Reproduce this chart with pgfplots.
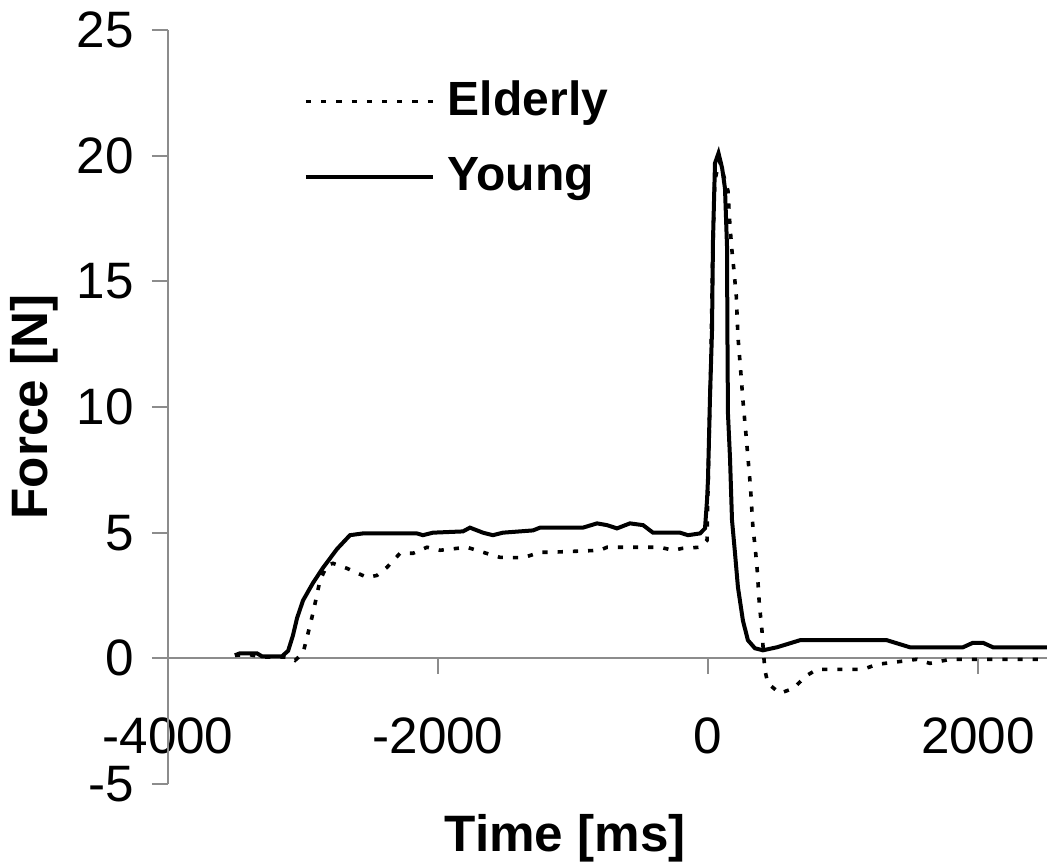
\documentclass[border=0pt]{standalone}
\usepackage{pgfplots}
\pgfplotsset{compat=1.18}
\usepackage{fontspec}
\setmainfont{Liberation Sans}
\definecolor{axisgray}{RGB}{140,140,140}

\pgfplotsset{
  forcestyle/.style={
    scale only axis, width=219.7pt,
    xmin=-4000, xmax=2510,
    axis line style={draw=axisgray, line width=0.5pt, -},
    tick style={draw=axisgray, line width=0.5pt},
    tick align=outside, major tick length=4pt,
    /pgf/number format/.cd, assume math mode=true, set thousands separator={}, /pgfplots/.cd,
    tick label style={font=\fontsize{12.8}{14}\selectfont, text=black},
    label style={font=\fontsize{12.8}{14}\selectfont},
  },
}

\begin{document}
\begin{tikzpicture}
\useasboundingbox (-42pt,-20.75pt) rectangle (219.75pt,196pt);
% x axis line through y = 0
\begin{axis}[
  forcestyle,
  at={(0pt,31.4167pt)}, anchor=south west,
  height=157.083pt, ymin=0, ymax=25,
  axis x line*=bottom, axis y line=none, ytick=\empty,
  xtick={-4000,-2000,0,2000},
  xtick style={draw=none},
  xticklabel style={anchor=north, inner sep=0pt, yshift=-10.75pt},
  xlabel={\bfseries Time [ms]},
  xlabel style={at={(axis description cs:0.452,-0.2866)}, anchor=center},
]
\end{axis}
\begin{axis}[
  forcestyle,
  at={(0pt,0pt)}, anchor=south west,
  height=188.5pt, ymin=-5, ymax=25,
  axis x line=none, xtick=\empty,
  axis y line*=left,
  ytick={-5,0,...,25},
  yticklabel style={xshift=-1pt},
  ylabel={\bfseries Force [N]},
  ylabel style={at={(axis description cs:-0.1527,0.5)}, anchor=center},
  legend style={at={(axis description cs:0.1538,0.8554)}, anchor=west, draw=none, fill=none,
    inner sep=0pt, row sep=9pt, column sep=3.25pt, nodes={inner sep=0pt},
    font=\bfseries\fontsize{12}{14}\selectfont},
  legend cell align=left,
  legend image code/.code={\draw[#1] (0pt,0pt) -- (31.75pt,0pt);},
]
% Elderly
\addplot[black, line width=0.9pt, dash pattern=on 1.3pt off 2.5pt] coordinates {
(-3504,0.12) (-3400,0.15) (-3300,0.05) (-3150,0.05) (-3096,0.04) (-3059,-0.08)
(-3000,0.2) (-2963,0.99) (-2926,1.8) (-2874,3.1) (-2822,3.7) (-2778,3.78)
(-2674,3.58) (-2526,3.22) (-2452,3.3) (-2378,3.62) (-2281,4.18) (-2185,4.18)
(-2081,4.42) (-1985,4.3) (-1785,4.42) (-1667,4.22) (-1541,4.02) (-1370,4.0)
(-1244,4.22) (-1170,4.22) (-800,4.3) (-748,4.42) (-356,4.42) (-259,4.3)
(-185,4.38) (-59,4.42) (-7,4.7) (5,8.0) (20,11.5) (35,16) (50,19) (85,19.8)
(148,18.6) (163,17.2) (178,16.2) (193,15.4) (210,14.4) (222,12.8) (240,11.6)
(260,10.2) (280,9.0) (296,8.0) (315,6.8) (333,5.2) (350,4.4) (365,3.5)
(380,2.2) (400,1.1) (410,0.3) (422,-0.48) (444,-1.0) (533,-1.39) (630,-1.2)
(733,-0.68) (807,-0.44) (1148,-0.44) (1252,-0.24) (1370,-0.16) (1548,-0.04)
(1644,-0.2) (1793,-0.04) (2510,-0.04)
};
\addlegendentry{Elderly}
% Young
\addplot[black, line width=1pt] coordinates {
(-3504,0.12) (-3467,0.2) (-3341,0.2) (-3304,0.08) (-3156,0.08) (-3110,0.3)
(-3075,0.9) (-3044,1.6) (-3000,2.3) (-2926,3.0) (-2852,3.6) (-2748,4.35)
(-2652,4.9) (-2556,4.97) (-2156,4.97) (-2111,4.9) (-2037,5.0) (-1815,5.05)
(-1763,5.2) (-1667,5.0) (-1593,4.9) (-1519,5.0) (-1296,5.09) (-1244,5.2)
(-926,5.2) (-822,5.37) (-748,5.3) (-674,5.17) (-578,5.37) (-481,5.3)
(-407,5.0) (-207,5.0) (-148,4.9) (-59,4.97) (-22,5.17) (-7,6.3) (0,7.1)
(15,10.4) (30,13.05) (37,16.6) (52,19.7) (78,20.1) (105,19.5) (126,18.7)
(141,16.4) (144,13.0) (148,9.75) (163,8.0) (178,5.5) (200,4.2) (222,2.83)
(259,1.5) (296,0.72) (348,0.4) (407,0.32) (511,0.44) (681,0.72) (1326,0.72)
(1496,0.44) (1889,0.44) (1963,0.62) (2037,0.62) (2111,0.44) (2510,0.44)
};
\addlegendentry{Young}
\end{axis}
% outward tick marks under the y = 0 line (x = -4000, -2000, 0, 2000)
\foreach \tx in {0pt,67.5pt,135pt,202.5pt}
  \draw[axisgray, line width=0.6pt] (\tx,31.4167pt) -- (\tx,27.4167pt);
\end{tikzpicture}
\end{document}
